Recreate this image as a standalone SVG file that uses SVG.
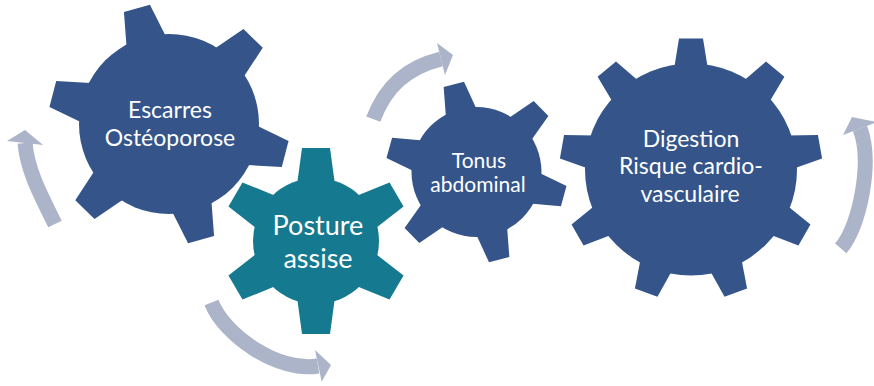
<svg xmlns="http://www.w3.org/2000/svg" xmlns:xlink="http://www.w3.org/1999/xlink" width="874" height="386" viewBox="0 0 874 386">
<style>
.lbl{font-family:"Lato","Open Sans","Liberation Sans",sans-serif;fill:#fff;text-anchor:middle}
.arc{fill:none;stroke:#abb4c8;stroke-width:15;stroke-linecap:butt}
.head{fill:#abb4c8}
.out{fill:#fff;stroke:#fff;stroke-width:4;stroke-linejoin:round}
.blue{fill:#34548a}
.teal{fill:#15798f}
</style>
<defs>
<polygon id="t1" points="-21,-82 -13.5,-120 13.5,-120 21,-82"/>
<polygon id="t2" points="-19,-56 -14,-93 14,-93 19,-56"/>
<polygon id="t3" points="-16,-60 -10.5,-90.5 10.5,-90.5 16,-60"/>
<polygon id="t4" points="-17,-100 -12,-131 12,-131 17,-100"/>
<g id="s1"><circle r="90"/><use xlink:href="#t1" transform="rotate(-15.5)"/><use xlink:href="#t1" transform="rotate(44.5)"/><use xlink:href="#t1" transform="rotate(104.5)"/><use xlink:href="#t1" transform="rotate(164.5)"/><use xlink:href="#t1" transform="rotate(224.5)"/><use xlink:href="#t1" transform="rotate(284.5)"/></g>
<g id="s2"><circle r="63"/><use xlink:href="#t2"/><use xlink:href="#t2" transform="rotate(60)"/><use xlink:href="#t2" transform="rotate(120)"/><use xlink:href="#t2" transform="rotate(180)"/><use xlink:href="#t2" transform="rotate(240)"/><use xlink:href="#t2" transform="rotate(300)"/></g>
<g id="s3"><circle r="65"/><use xlink:href="#t3" transform="rotate(-14.5)"/><use xlink:href="#t3" transform="rotate(45.5)"/><use xlink:href="#t3" transform="rotate(105.5)"/><use xlink:href="#t3" transform="rotate(165.5)"/><use xlink:href="#t3" transform="rotate(225.5)"/><use xlink:href="#t3" transform="rotate(285.5)"/></g>
<g id="s4"><circle r="106"/><use xlink:href="#t4"/><use xlink:href="#t4" transform="rotate(40)"/><use xlink:href="#t4" transform="rotate(80)"/><use xlink:href="#t4" transform="rotate(120)"/><use xlink:href="#t4" transform="rotate(160)"/><use xlink:href="#t4" transform="rotate(200)"/><use xlink:href="#t4" transform="rotate(240)"/><use xlink:href="#t4" transform="rotate(280)"/><use xlink:href="#t4" transform="rotate(320)"/></g>
</defs>
<rect width="874" height="386" fill="#fff"/>
<g id="connectors">
<path class="arc" d="M55,224 C37.1,188.2 27.2,167.9 25,143"/>
<polygon class="head" points="7,141 25,130 43,145"/>
<path class="arc" d="M211.5,302.5 C224,335.2 278.6,372.8 318,366"/>
<polygon class="head" points="315,350 331,365 321.7,381.7"/>
<path class="arc" d="M373.3,119.2 C385.6,86.4 407,67.5 441,59"/>
<polygon class="head" points="437,43 453,55 445,75"/>
<path class="arc" d="M840.8,248.3 C860.3,225.5 872.5,161.2 860,128.5"/>
<polygon class="head" points="843,135 852,117 877,122"/>
</g>
<g id="gear-escarres">
<use xlink:href="#s1" class="out" transform="translate(169,124)"/>
<use xlink:href="#s1" class="blue" transform="translate(169,124)"/>
<text class="lbl" font-size="23" x="170" y="118">Escarres</text>
<text class="lbl" font-size="23" x="170" y="146">Ostéoporose</text>
</g>
<g id="gear-tonus">
<use xlink:href="#s3" class="out" transform="translate(476.5,172)"/>
<use xlink:href="#s3" class="blue" transform="translate(476.5,172)"/>
<text class="lbl" font-size="21" x="479" y="168">Tonus</text>
<text class="lbl" font-size="21" x="478" y="192">abdominal</text>
</g>
<g id="gear-posture">
<use xlink:href="#s2" class="out" transform="translate(316,241)"/>
<use xlink:href="#s2" class="teal" transform="translate(316,241)"/>
<text class="lbl" font-size="27" x="318" y="235">Posture</text>
<text class="lbl" font-size="27" x="318" y="268">assise</text>
</g>
<g id="gear-digestion">
<use xlink:href="#s4" class="out" transform="translate(691,169.5)"/>
<use xlink:href="#s4" class="blue" transform="translate(691,169.5)"/>
<text class="lbl" font-size="23" x="691" y="147">Digestion</text>
<text class="lbl" font-size="23" x="691" y="174">Risque cardio-</text>
<text class="lbl" font-size="23" x="690" y="202">vasculaire</text>
</g>
</svg>
